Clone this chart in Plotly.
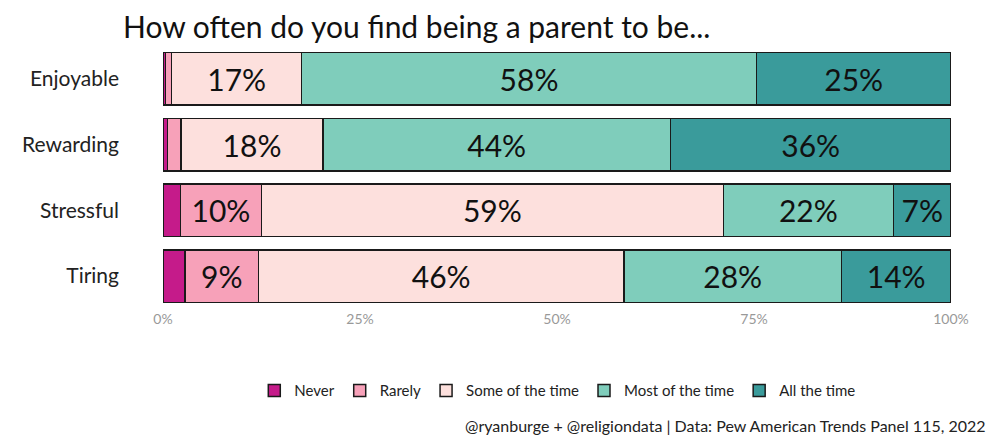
import plotly.graph_objects as go

categories = ["Enjoyable", "Rewarding", "Stressful", "Tiring"]
series_names = ["Never", "Rarely", "Some of the time", "Most of the time", "All the time"]
never = [0.3, 0.6, 2.2, 2.8]
rarely = [0.8, 1.7, 10.3, 9.3]
some = [16.5, 18.0, 58.6, 46.4]
most = [57.7, 44.1, 21.6, 27.6]
alltime = [24.7, 35.6, 7.3, 13.9]
colors = ["#C51B8A", "#F7A1B9", "#FDE0DD", "#7FCDBB", "#3A9B9B"]
tick_vals = [0, 25, 50, 75, 100]
tick_text = ["0%", "25%", "50%", "75%", "100%"]

FONT = "Lato, Roboto, sans-serif"

fig = go.Figure()
for name, vals, col in zip(series_names, [never, rarely, some, most, alltime], colors):
    labels = [f"{int(v + 0.5)}%" if v >= 5 else "" for v in vals]
    fig.add_trace(go.Bar(
        y=categories, x=vals, name=name, orientation="h",
        marker=dict(color=col, line=dict(color="#1a1a1a", width=1.5)),
        text=labels, textposition="inside", insidetextanchor="middle",
        textfont=dict(size=30, color="#111111", family=FONT),
        constraintext="none", width=0.8, hoverinfo="x+name",
    ))

fig.update_layout(
    barmode="stack",
    width=1000, height=444,
    paper_bgcolor="white", plot_bgcolor="white",
    margin=dict(l=155, r=57, t=38, b=143, autoexpand=False),
    font=dict(family=FONT, color="#222222"),
    title=dict(text="How often do you find being a parent to be...", x=0.115, xanchor="left",
               y=0.955, yanchor="middle", font=dict(size=30, color="#111111", family=FONT)),
    xaxis=dict(range=[0, 100], tickvals=tick_vals, ticktext=tick_text, showgrid=False,
               zeroline=False, showline=False, ticks="", automargin=False,
               tickfont=dict(size=14, color="#999999", family=FONT)),
    yaxis=dict(autorange="reversed", showgrid=False, ticks="", ticklabelstandoff=43,
               automargin=False,
               tickfont=dict(size=21, color="#222222", family=FONT)),
    legend=dict(orientation="h", x=0.501, xanchor="center", y=-0.311, yanchor="middle",
                font=dict(size=15, color="#222222", family=FONT), traceorder="normal"),
    showlegend=True,
    uniformtext=dict(mode="show", minsize=10),
)
fig.add_annotation(text="@ryanburge + @religiondata | Data: Pew American Trends Panel 115, 2022",
                   xref="paper", yref="paper", x=1.047, y=-0.443, xanchor="right", yanchor="middle",
                   showarrow=False, font=dict(size=16, color="#222222", family=FONT))

fig.write_html("out.html")
